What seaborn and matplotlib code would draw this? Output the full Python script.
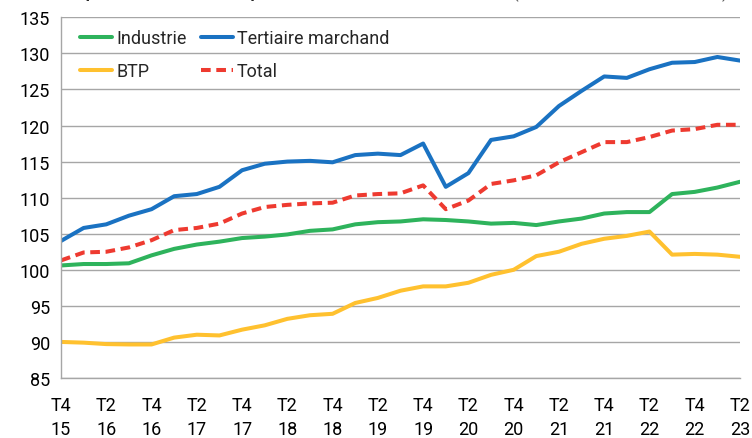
import pandas as pd
import matplotlib.pyplot as plt
import seaborn as sns

# Trimestres T4 2015 -> T2 2023
trimestres = ['T4\n15', 'T1\n16', 'T2\n16', 'T3\n16', 'T4\n16', 'T1\n17', 'T2\n17', 'T3\n17',
              'T4\n17', 'T1\n18', 'T2\n18', 'T3\n18', 'T4\n18', 'T1\n19', 'T2\n19', 'T3\n19',
              'T4\n19', 'T1\n20', 'T2\n20', 'T3\n20', 'T4\n20', 'T1\n21', 'T2\n21', 'T3\n21',
              'T4\n21', 'T1\n22', 'T2\n22', 'T3\n22', 'T4\n22', 'T1\n23', 'T2\n23']

industrie = [100.6, 100.8, 100.8, 100.9, 102.0, 102.9, 103.5, 103.9, 104.4, 104.6, 104.9,
             105.4, 105.6, 106.3, 106.6, 106.7, 107.0, 106.9, 106.7, 106.4, 106.5, 106.2,
             106.7, 107.1, 107.8, 108.0, 108.0, 110.5, 110.8, 111.4, 112.2]
tertiaire = [104.0, 105.8, 106.3, 107.5, 108.4, 110.2, 110.5, 111.5, 113.8, 114.7, 115.0,
             115.1, 114.9, 115.9, 116.1, 115.9, 117.5, 111.5, 113.4, 118.0, 118.5, 119.8,
             122.7, 124.8, 126.8, 126.6, 127.8, 128.7, 128.8, 129.5, 129.0]
btp = [90.0, 89.9, 89.7, 89.65, 89.65, 90.6, 91.0, 90.9, 91.7, 92.3, 93.2,
       93.7, 93.9, 95.4, 96.1, 97.1, 97.7, 97.7, 98.2, 99.3, 100.0, 101.9,
       102.5, 103.6, 104.3, 104.7, 105.3, 102.1, 102.2, 102.1, 101.8]
total = [101.3, 102.4, 102.5, 103.1, 104.1, 105.5, 105.8, 106.4, 107.8, 108.7, 109.0,
         109.2, 109.3, 110.3, 110.5, 110.6, 111.7, 108.4, 109.6, 111.9, 112.4, 113.1,
         114.9, 116.3, 117.7, 117.7, 118.4, 119.3, 119.5, 120.1, 120.1]

series = {'Industrie': industrie, 'Tertiaire marchand': tertiaire, 'BTP': btp, 'Total': total}
couleurs = {'Industrie': '#2EB35C', 'Tertiaire marchand': '#1A72C2',
            'BTP': '#FFC12F', 'Total': '#EE3A30'}
tirets = {'Industrie': '', 'Tertiaire marchand': '', 'BTP': '', 'Total': (2.4, 1.4)}

# format long pour seaborn
rows = []
for nom, vals in series.items():
    for i, v in enumerate(vals):
        rows.append({'idx': i, 'valeur': v, 'secteur': nom})
df = pd.DataFrame(rows)

sns.set_style('white')
plt.rcParams['font.family'] = ['Roboto', 'DejaVu Sans']

fig = plt.figure(figsize=(7.52, 4.39), dpi=100)
ax = fig.add_axes([61 / 752, 1 - 379 / 439, 679 / 752, (379 - 18.3) / 439])

sns.lineplot(data=df, x='idx', y='valeur', hue='secteur', style='secteur',
             palette=couleurs, dashes=tirets, linewidth=2.9, ax=ax, legend=True)

ax.set_xlim(0, len(trimestres) - 1)
ax.set_ylim(85, 135)
ax.set_yticks(range(85, 136, 5))
ax.set_xticks(range(len(trimestres)))
ax.set_xticklabels([t if i % 2 == 0 else '' for i, t in enumerate(trimestres)],
                   linespacing=1.45)
ax.set_xlabel('')
ax.set_ylabel('')
ax.grid(axis='y', color='#A6A6A6', linewidth=1)
ax.grid(axis='x', visible=False)
for s in ['top', 'right']:
    ax.spines[s].set_visible(False)
for s in ['left', 'bottom']:
    ax.spines[s].set_color('#A6A6A6')
    ax.spines[s].set_linewidth(1)
ax.tick_params(axis='both', which='both', direction='out', length=5, width=1,
               color='#A6A6A6', labelsize=13, labelcolor='black')
ax.tick_params(axis='x', pad=8)
ax.tick_params(axis='y', pad=3)

# légende sur deux colonnes
handles, labels = ax.get_legend_handles_labels()
ordre = ['Industrie', 'BTP', 'Tertiaire marchand', 'Total']
h = [handles[labels.index(n)] for n in ordre]
ax.legend(h, ordre, ncol=2, loc='upper left', bbox_to_anchor=(0.004, 1.013),
          frameon=False, fontsize=13, handlelength=1.8, handletextpad=0.2,
          columnspacing=0.8, labelspacing=0.85)

# titre (coupé en haut de l'image, comme dans l'original)
fig.text(62 / 752, 1 + 2 / 439, "Emploi salarié marchand par secteur d'activité",
         fontsize=12, fontweight='bold', va='baseline', ha='left')
fig.text(513 / 752, 1 + 2 / 439, '(indice base 100 au T4 2015)',
         fontsize=12, color='#595959', va='baseline', ha='left')

fig.savefig('out.png', dpi=100)
